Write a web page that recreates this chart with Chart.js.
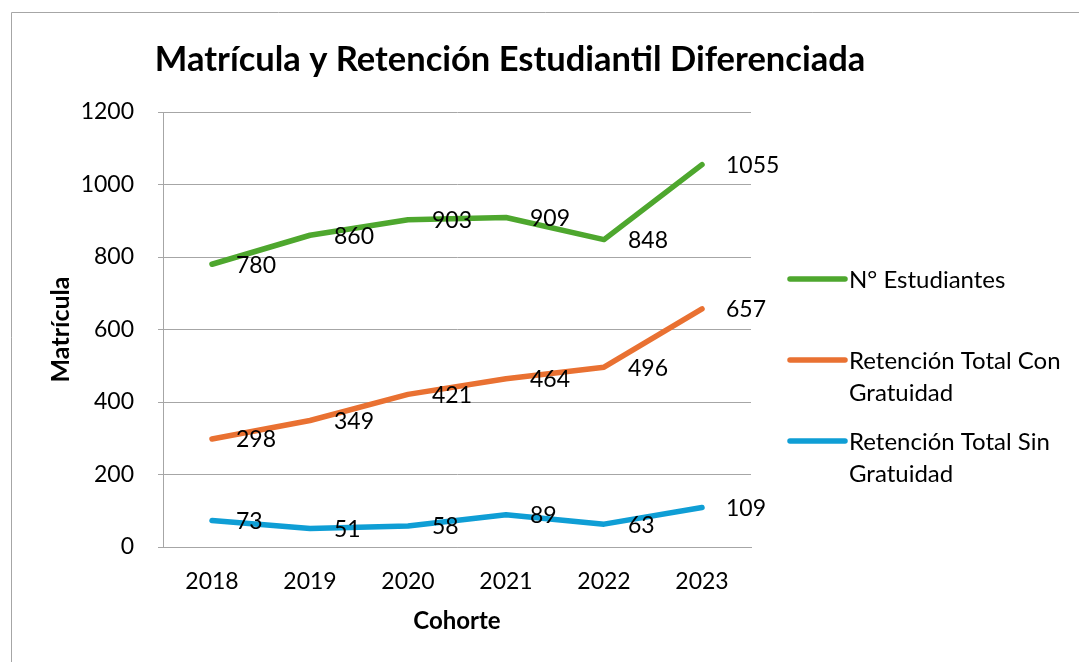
<!DOCTYPE html>
<html>
<head>
<meta charset="utf-8">
<script src="https://cdn.jsdelivr.net/npm/chart.js@4.4.0/dist/chart.umd.min.js"></script>
<style>
  body { margin: 0; background: #fff; }
  canvas { display: block; }
</style>
</head>
<body>
<canvas id="mycanvas" width="1079" height="662"></canvas>
<script>
var cohortes = ['2018', '2019', '2020', '2021', '2022', '2023'];
var estudiantes = [780, 860, 903, 909, 848, 1055];
var conGratuidad = [298, 349, 421, 464, 496, 657];
var sinGratuidad = [73, 51, 58, 89, 63, 109];
var seriesNames = ['N° Estudiantes', 'Retención Total Con Gratuidad', 'Retención Total Sin Gratuidad'];
var seriesColors = ['#4EA72E', '#E97132', '#0F9ED5'];
var yTicks = [0, 200, 400, 600, 800, 1000, 1200];
var chartTitle = 'Matrícula y Retención Estudiantil Diferenciada';

Chart.defaults.font.family = 'Lato';
Chart.defaults.color = '#000';

// frame, title, value labels and legend drawn on the canvas
var extras = {
	id: 'extras',
	beforeDraw: function(chart) {
		var ctx = chart.ctx;
		ctx.save();
		ctx.fillStyle = '#fff';
		ctx.fillRect(0, 0, chart.width, chart.height);
		ctx.strokeStyle = '#a6a6a6';
		ctx.lineWidth = 1;
		ctx.beginPath();
		ctx.moveTo(11.5, chart.height);
		ctx.lineTo(11.5, 12.5);
		ctx.lineTo(chart.width, 12.5);
		ctx.stroke();
		ctx.restore();
	},
	afterDatasetsDraw: function(chart) {
		var ctx = chart.ctx;
		ctx.save();
		ctx.fillStyle = '#000';
		ctx.font = 'bold 34.5px Lato';
		ctx.textAlign = 'center';
		ctx.textBaseline = 'middle';
		ctx.fillText(chartTitle, 510, 60);

		ctx.font = '23px Lato';
		ctx.textAlign = 'left';
		chart.data.datasets.forEach(function(ds, i) {
			var meta = chart.getDatasetMeta(i);
			meta.data.forEach(function(pt, j) {
				ctx.fillText(String(ds.data[j]), pt.x + 24, pt.y + 1);
			});
		});

		// legend
		ctx.font = '24px Lato';
		ctx.lineCap = 'round';
		ctx.lineWidth = 5.5;
		var y0 = 279;
		chart.data.datasets.forEach(function(ds, i) {
			var y = y0 + i * 81;
			ctx.strokeStyle = ds.borderColor;
			ctx.beginPath();
			ctx.moveTo(790, y);
			ctx.lineTo(845, y);
			ctx.stroke();
			var words = ds.label.split(' ');
			var lines = [];
			var cur = '';
			words.forEach(function(w) {
				var t = cur ? cur + ' ' + w : w;
				if (ctx.measureText(t).width > 225 && cur) {
					lines.push(cur);
					cur = w;
				} else {
					cur = t;
				}
			});
			lines.push(cur);
			lines.forEach(function(l, k) {
				ctx.fillText(l, 849, y + 1 + k * 32);
			});
		});
		ctx.restore();
	}
};

var chartdata = {
	labels: cohortes,
	datasets: [estudiantes, conGratuidad, sinGratuidad].map(function(d, i) {
		return {
			label: seriesNames[i],
			data: d,
			borderColor: seriesColors[i],
			backgroundColor: seriesColors[i],
			borderWidth: 5.5,
			borderCapStyle: 'round',
			borderJoinStyle: 'round',
			pointRadius: 0,
			tension: 0,
			fill: false
		};
	})
};

var ctx = document.getElementById('mycanvas');
var lineGraph = new Chart(ctx, {
	type: 'line',
	data: chartdata,
	plugins: [extras],
	options: {
		responsive: false,
		animation: false,
		layout: { padding: { top: 112, right: 328, left: 0, bottom: 0 } },
		plugins: {
			legend: { display: false },
			title: { display: false },
			tooltip: { enabled: false }
		},
		scales: {
			x: {
				offset: true,
				grid: { display: false, drawTicks: false },
				border: { color: '#a6a6a6', width: 1 },
				ticks: { font: { size: 23 }, padding: 21 },
				title: { display: true, text: 'Cohorte', font: { size: 24, weight: 'bold' }, padding: { top: 0, bottom: 26 } },
				afterFit: function(s) { s.height = 662 - 547; }
			},
			y: {
				min: 0,
				max: 1200,
				afterBuildTicks: function(s) { s.ticks = yTicks.map(function(v) { return { value: v }; }); },
				grid: { color: '#a6a6a6', lineWidth: 1, tickLength: 5 },
				border: { color: '#a6a6a6', width: 1 },
				ticks: { font: { size: 23 }, padding: 24, callback: function(v) { return String(v); } },
				title: { display: true, text: 'Matrícula', font: { size: 25, weight: 'bold' }, padding: { top: 46, bottom: 0 } },
				afterFit: function(s) { s.width = 163; }
			}
		}
	}
});
</script>
</body>
</html>
